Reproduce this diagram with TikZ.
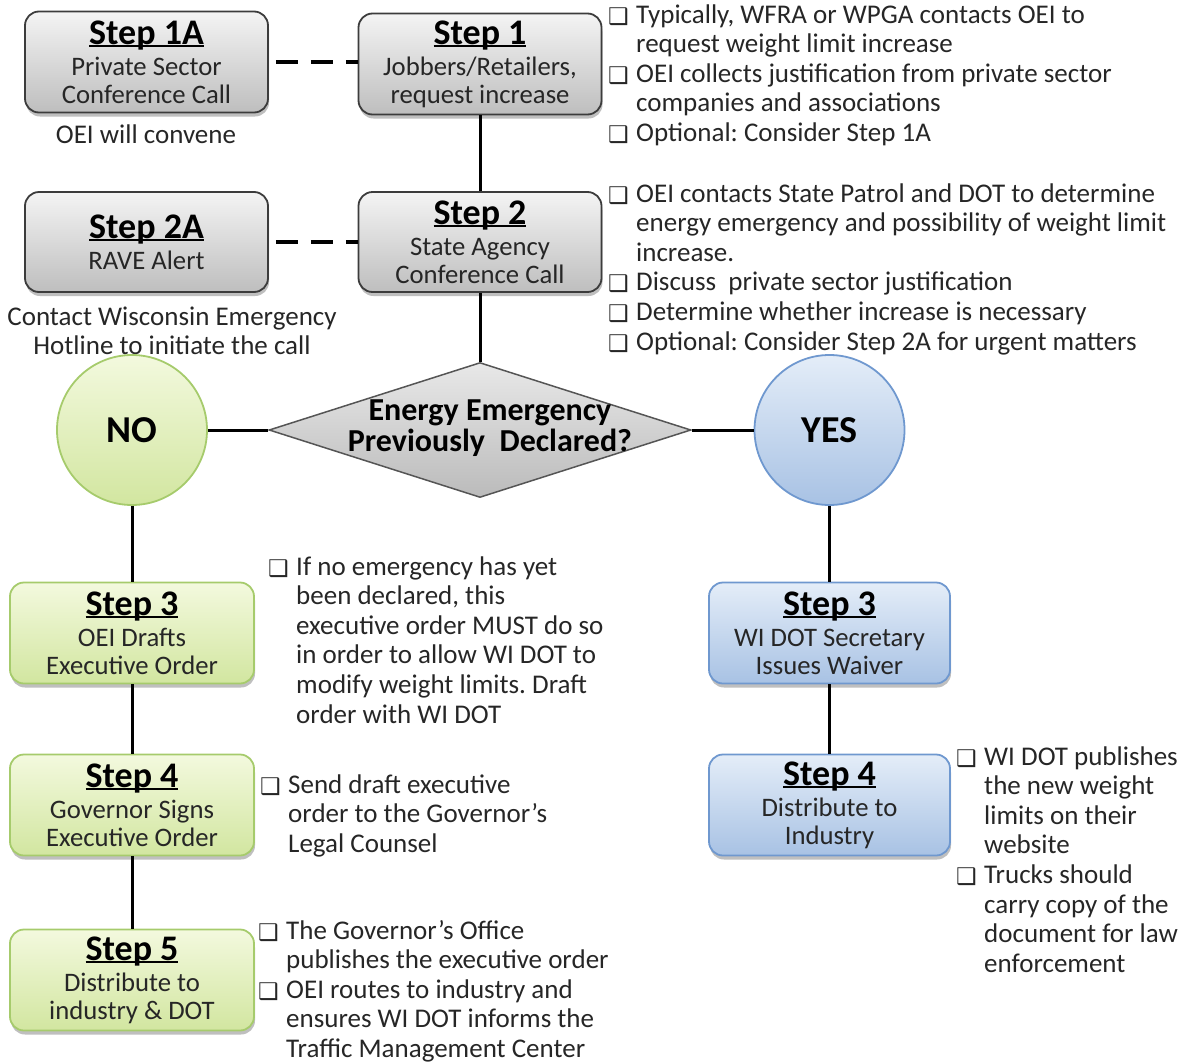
\documentclass[tikz,border=0pt]{standalone}
\usepackage{fontspec}
\setmainfont{Carlito}
\newfontfamily\symfont{DejaVu Sans}
\usetikzlibrary{shapes.geometric,shadows}
\frenchspacing

\definecolor{graytop}{HTML}{F4F4F4}
\definecolor{graybot}{HTML}{BEBEBE}
\definecolor{grayline}{HTML}{3C3C3C}
\definecolor{greentop}{HTML}{F3F9DE}
\definecolor{greenbot}{HTML}{D2E6A0}
\definecolor{greenline}{HTML}{A6CB6C}
\definecolor{bluetop}{HTML}{E4EDF8}
\definecolor{bluebot}{HTML}{A8C2E4}
\definecolor{blueline}{HTML}{6F98CF}
\definecolor{diatop}{HTML}{E8E8E8}
\definecolor{diabot}{HTML}{BBBBBB}
\definecolor{dialine}{HTML}{555555}
\definecolor{inktext}{HTML}{262626}

\newcommand\fs[2]{\fontsize{#1}{#2}\selectfont}
% underlined bold step title
\newcommand\steptitle[1]{{\fs{36}{36}\bfseries\color{black}\setbox0=\hbox{#1}\leavevmode\rlap{\rule[-3pt]{\wd0}{2pt}}\box0}}
% checkbox bullet and its hanging indent
\newcommand\cbx{\makebox[28pt][l]{\symfont\fs{23}{23}\raisebox{-1pt}{\symbol{"2751}}}}
\newcommand\cbn{\hspace*{28pt}}
\newcommand\notes[1]{\begin{tabular}[t]{@{}l@{}}#1\end{tabular}}

\begin{document}
\frenchspacing
\begin{tikzpicture}[x=1pt,y=-1pt,
  conn/.style={line width=3pt, black},
  dashconn/.style={line width=3.5pt, black, dash pattern=on 22pt off 13pt, dash phase=28pt},
  box/.style={rectangle, rounded corners=14pt, line width=1.8pt, align=center,
    inner sep=0pt, minimum height=101pt, font=\fs{26.7}{28}, text=inktext,
    drop shadow={shadow xshift=1pt, shadow yshift=-4pt, opacity=0.25, fill=black}},
  graybox/.style={box, draw=grayline, top color=graytop, bottom color=graybot, minimum width=243pt},
  greenbox/.style={box, draw=greenline, top color=greentop, bottom color=greenbot, minimum width=244pt},
  bluebox/.style={box, draw=blueline, top color=bluetop, bottom color=bluebot, minimum width=241pt},
  answer/.style={ellipse, line width=1.8pt, minimum width=150pt, minimum height=150pt,
    inner sep=0pt, font=\fs{38}{40}\bfseries},
  caption/.style={font=\fs{27}{29}, text=inktext, align=center, inner sep=0pt},
  note/.style={font=\fs{27}{29.6}, text=inktext, inner sep=0pt, anchor=base west}
]
\useasboundingbox (0,0) rectangle (1183,1063);

% upper chain of gray steps
\node[graybox] (s1a) at (146.5,62) {\steptitle{Step 1A}\\[3pt]Private Sector\\Conference Call};
\node[graybox] (s1)  at (480,64)   {\steptitle{Step 1}\\[3pt]Jobbers/Retailers,\\request increase};
\node[graybox, minimum height=100pt] (s2a) at (146.5,242) {\steptitle{Step 2A}\\[3pt]RAVE Alert};
\node[graybox, minimum height=100pt] (s2)  at (480,242)   {\steptitle{Step 2}\\[3pt]State Agency\\Conference Call};

\node[caption] (c1a) at (146,134) {OEI will convene};
\node[caption] (c2a) at (172,331) {Contact Wisconsin Emergency\\Hotline to initiate the call};

% decision
\node[diamond, draw=dialine, line width=1.5pt, top color=diatop, bottom color=diabot,
  minimum width=422pt, minimum height=135pt, inner sep=0pt] (q) at (480,430) {};
\node[font=\fs{32}{31}\bfseries, align=center, inner sep=0pt] (qt) at (490,428)
  {Energy Emergency\\Previously\ \ Declared?};

\node[answer, draw=greenline, top color=greentop, bottom color=greenbot] (no) at (132,430) {NO};
\node[answer, draw=blueline, top color=bluetop, bottom color=bluebot] (yes) at (829.5,430) {YES};

% NO branch
\node[greenbox] (g3) at (132,633) {\steptitle{Step 3}\\[3pt]OEI Drafts\\Executive Order};
\node[greenbox] (g4) at (132,805) {\steptitle{Step 4}\\[3pt]Governor Signs\\Executive Order};
\node[greenbox] (g5) at (132,980) {\steptitle{Step 5}\\[3pt]Distribute to\\industry \& DOT};

% YES branch
\node[bluebox] (b3) at (829.5,633) {\steptitle{Step 3}\\[3pt]WI DOT Secretary\\Issues Waiver};
\node[bluebox] (b4) at (829.5,805) {\steptitle{Step 4}\\[3pt]Distribute to\\Industry};

% connectors
\draw[dashconn] (s1a.east) -- (s1a.east -| s1.west);
\draw[dashconn] (s2a.east) -- (s2a.east -| s2.west);
\draw[conn] (s1.south) -- (s2.north);
\draw[conn] (s2.south) -- (q.north);
\draw[conn] (q.west) -- (no.east);
\draw[conn] (q.east) -- (yes.west);
\draw[conn] (no.south) -- (g3.north);
\draw[conn] (g3.south) -- (g4.north);
\draw[conn] (g4.south) -- (g5.north);
\draw[conn] (yes.south) -- (b3.north);
\draw[conn] (b3.south) -- (b4.north);

% checklists
\node[note] (n1) at (608,23) {\notes{%
  \cbx Typically, WFRA or WPGA contacts OEI to\\
  \cbn request weight limit increase\\
  \cbx OEI collects justification from private sector\\
  \cbn companies and associations\\
  \cbx Optional: Consider Step 1A}};
\node[note] (n2) at (608,202) {\notes{%
  \cbx OEI contacts State Patrol and DOT to determine\\
  \cbn energy emergency and possibility of weight limit\\
  \cbn increase.\\
  \cbx Discuss\ \ private sector justification\\
  \cbx Determine whether increase is necessary\\
  \cbx Optional: Consider Step 2A for urgent matters}};
\node[note] (n3) at (268,575) {\notes{%
  \cbx If no emergency has yet\\
  \cbn been declared, this\\
  \cbn executive order MUST do so\\
  \cbn in order to allow WI DOT to\\
  \cbn modify weight limits. Draft\\
  \cbn order with WI DOT}};
\node[note] (n4) at (260,793) {\notes{%
  \cbx Send draft executive\\
  \cbn order to the Governor’s\\
  \cbn Legal Counsel}};
\node[note] (n5) at (258,939) {\notes{%
  \cbx The Governor’s Office\\
  \cbn publishes the executive order\\
  \cbx OEI routes to industry and\\
  \cbn ensures WI DOT informs the\\
  \cbn Traffic Management Center}};
\node[note] (n6) at (956,765) {\notes{%
  \cbx WI DOT publishes\\
  \cbn the new weight\\
  \cbn limits on their\\
  \cbn website\\
  \cbx Trucks should\\
  \cbn carry copy of the\\
  \cbn document for law\\
  \cbn enforcement}};
\end{tikzpicture}
\end{document}
